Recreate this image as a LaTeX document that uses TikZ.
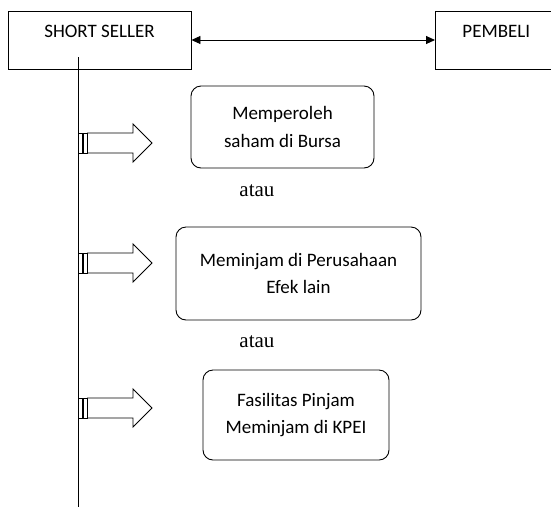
\documentclass[tikz,border=0pt]{standalone}
\usepackage{fontspec}
\setmainfont{Carlito}
\newfontfamily\ataufont{Liberation Serif}
\usetikzlibrary{positioning}
\usetikzlibrary{arrows.meta}
\tikzset{
	every path/.style={line width=0.9pt},
	align=center,
	party/.style={
		draw,
		rectangle,
		font=\fontsize{19}{27}\selectfont,
		inner ysep=14pt,
		text height=12pt,
		text depth=18pt,
	},
	route/.style={
		draw,
		rectangle,
		rounded corners=10pt,
		font=\fontsize{19}{27.5}\selectfont,
	},
	trade/.style={
		{Triangle[length=9pt,width=8pt]}-{Triangle[length=9pt,width=8pt]}
	},
	atau/.style={
		font=\ataufont\fontsize{21}{24}\selectfont,
		anchor=base west,
		inner sep=0pt,
	},
	stripedarrow/.pic={
		\draw (0,-10) rectangle (4,10);
		\draw (5,-10) rectangle (9.5,10);
		\draw (9.5,-10) -- (55,-10) -- (55,-19) -- (74,0) -- (55,19) -- (55,10) -- (9.5,10) -- cycle;
	},
}

\begin{document}
\begin{tikzpicture}[x=1pt,y=-1pt]
		\useasboundingbox (0,0) rectangle (551,507);

		\node[party, minimum width=183pt] (seller) at (99.5,40) {SHORT SELLER};
		\node[party, anchor=west, inner xsep=27pt, text width=100pt, align=left] (buyer) at (435,40) {PEMBELI};

		\draw[trade] (seller) -- (buyer);

		\coordinate (spinetop) at (78,57);
		\coordinate (spinebot) at (78,507);
		\draw (spinetop) -- (spinebot);

		\node[route, minimum width=183pt, minimum height=82pt] (bursa) at (282.5,127) {Memperoleh\\saham di Bursa};
		\node[route, minimum width=245pt, minimum height=93pt] (efek) at (298.5,273.5) {Meminjam di Perusahaan\\Efek lain};
		\node[route, minimum width=186pt, minimum height=90pt] (kpei) at (296,415) {Fasilitas Pinjam\\Meminjam di KPEI};

		\node[atau] (or1) at (239,196) {atau};
		\node[atau] (or2) at (239,347) {atau};

		\pic (arrbursa) at (78,143) {stripedarrow};
		\pic (arrefek) at (78,263) {stripedarrow};
		\pic (arrkpei) at (78,408) {stripedarrow};

	\end{tikzpicture}
\end{document}
